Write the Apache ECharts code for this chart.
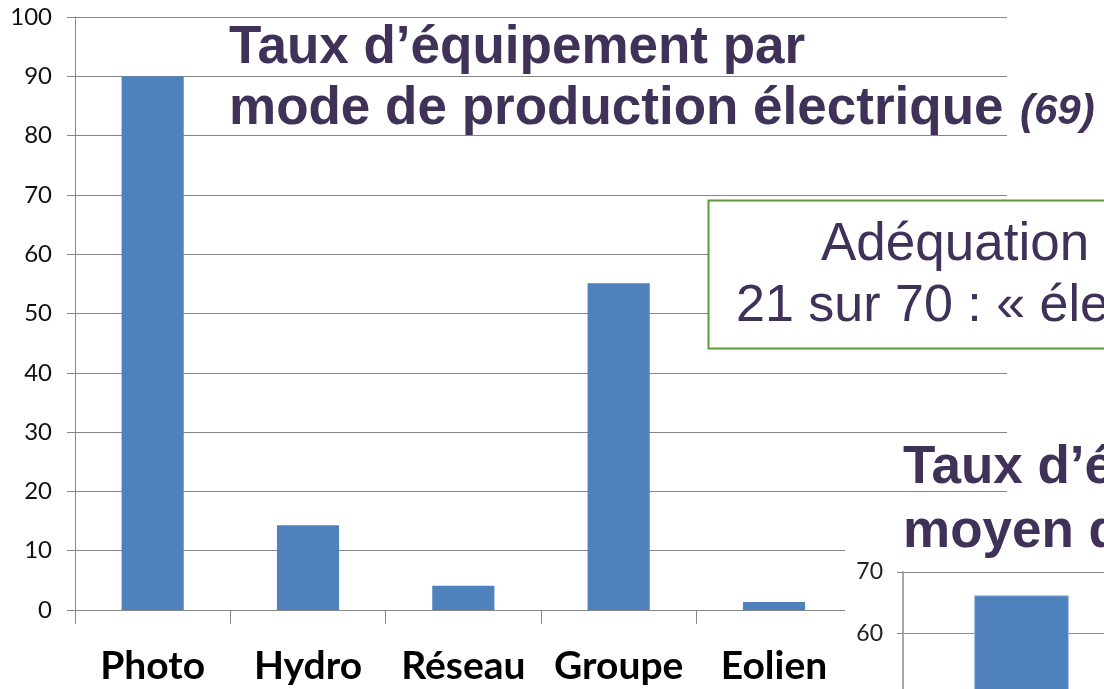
<!DOCTYPE html>
<html>
<head>
<meta charset="utf-8">
<script src="https://cdn.jsdelivr.net/npm/echarts@6/dist/echarts.min.js"></script>
<style>
  html, body { margin: 0; padding: 0; background: #fff; }
  #chart { width: 1104px; height: 689px; }
</style>
</head>
<body>
<div id="chart"></div>
<script>
// main chart: taux d'equipement par mode de production
const modes = ['Photo', 'Hydro', 'Réseau', 'Groupe', 'Eolien', ''];
const taux = [90, 14.3, 4.1, 55.1, 1.35, null];
const yTicks = [0, 100, 10];

// second chart, partly visible at bottom right
const moyenCats = [''];
const moyenVals = [66.2];
const moyenTicks = [40, 70, 10];

const purple = '#3f3158';
const gray = '#868686';
const blue = '#4f81bd';

const chart = echarts.init(document.getElementById('chart'));

chart.setOption({
  animation: false,
  backgroundColor: '#fff',
  grid: [
    { left: 75, top: 17, width: 932, height: 593, outerBoundsMode: 'none' },
    { left: 903, top: 572, right: -36, bottom: -67, outerBoundsMode: 'none' }
  ],
  xAxis: [{
    type: 'category',
    gridIndex: 0,
    data: modes,
    axisLine: { lineStyle: { color: gray, width: 1 } },
    axisTick: { show: true, interval: 0, length: 14, lineStyle: { color: gray, width: 1 } },
    axisLabel: {
      interval: 0,
      hideOverlap: false,
      margin: 37,
      fontFamily: 'Lato',
      fontWeight: 'bold',
      fontSize: 39,
      color: '#000'
    }
  }, {
    type: 'category',
    gridIndex: 1,
    data: moyenCats,
    z: 4,
    axisLine: { show: false },
    axisTick: { show: false },
    axisLabel: { show: false }
  }],
  yAxis: [{
    type: 'value',
    gridIndex: 0,
    min: yTicks[0],
    max: yTicks[1],
    interval: yTicks[2],
    axisLine: { show: true, lineStyle: { color: gray } },
    axisTick: { show: true, length: 8, lineStyle: { color: gray } },
    splitLine: { lineStyle: { color: gray, width: 1 } },
    axisLabel: { margin: 23, fontFamily: 'Lato', fontSize: 24, color: '#111' }
  }, {
    type: 'value',
    gridIndex: 1,
    min: moyenTicks[0],
    max: moyenTicks[1],
    interval: moyenTicks[2],
    z: 4,
    axisLine: { show: true, lineStyle: { color: '#a6a6a6', width: 2 } },
    axisTick: { show: true, length: 6, lineStyle: { color: gray } },
    splitLine: { lineStyle: { color: '#8c8c8c', width: 1 } },
    axisLabel: {
      margin: 20,
      fontFamily: 'Lato',
      fontSize: 23,
      color: '#222',
      formatter: v => (v >= 60 ? String(v) : '')
    }
  }],
  series: [{
    type: 'bar',
    xAxisIndex: 0,
    yAxisIndex: 0,
    data: taux,
    barWidth: '40%',
    itemStyle: { color: blue }
  }, {
    type: 'bar',
    xAxisIndex: 1,
    yAxisIndex: 1,
    z: 5,
    data: moyenVals,
    barWidth: '40%',
    itemStyle: { color: blue, borderColor: '#a3c0e2', borderWidth: 1 }
  }],
  graphic: [
    // white backdrop of second chart, hides the main grid lines
    { type: 'rect', z: 3, shape: { x: 845, y: 530, width: 300, height: 200 }, style: { fill: '#fff' } },
    // green framed box
    { type: 'rect', z: 6, shape: { x: 708.5, y: 200.5, width: 500, height: 148 }, style: { fill: '#fff', stroke: '#5b9a3c', lineWidth: 2 } },
    { type: 'text', z: 10, x: 821, y: 245, style: { text: 'Adéquation', font: '53px "Liberation Sans"', fill: purple, verticalAlign: 'middle' } },
    { type: 'text', z: 10, x: 736, y: 307, style: { text: '21 sur 70 : « électrique', font: '52px "Liberation Sans"', fill: purple, verticalAlign: 'middle' } },
    // titles
    { type: 'text', z: 10, x: 229, y: 48, style: { text: 'Taux d’équipement par', font: 'bold 53px "Liberation Sans"', fill: purple, verticalAlign: 'middle' } },
    { type: 'text', z: 10, x: 229, y: 109, style: { text: 'mode de production électrique', font: 'bold 53px "Liberation Sans"', fill: purple, verticalAlign: 'middle' } },
    { type: 'text', z: 10, x: 1020, y: 112, style: { text: '(69)', font: 'italic bold 42px "Liberation Sans"', fill: purple, verticalAlign: 'middle' } },
    { type: 'text', z: 10, x: 903, y: 468, style: { text: 'Taux d’équipement', font: 'bold 53px "Liberation Sans"', fill: purple, verticalAlign: 'middle' } },
    { type: 'text', z: 10, x: 903, y: 532, style: { text: 'moyen de', font: 'bold 53px "Liberation Sans"', fill: purple, verticalAlign: 'middle' } }
  ]
});
</script>
</body>
</html>
